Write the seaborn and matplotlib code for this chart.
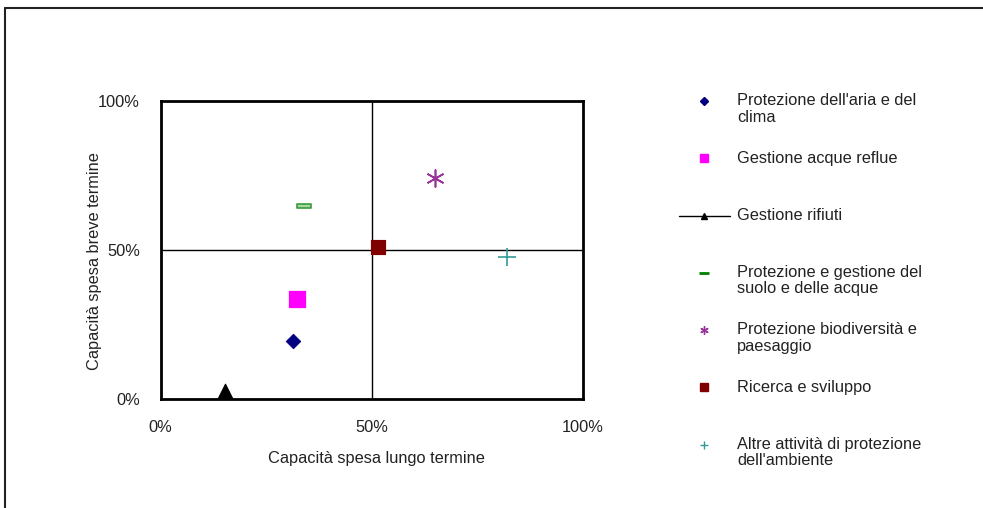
import matplotlib.pyplot as plt
import seaborn as sns
from matplotlib.lines import Line2D
from matplotlib.path import Path
from matplotlib.ticker import FixedLocator

categories = [
    "Protezione dell'aria e del\nclima",
    "Gestione acque reflue",
    "Gestione rifiuti",
    "Protezione e gestione del\nsuolo e delle acque",
    "Protezione biodiversità e\npaesaggio",
    "Ricerca e sviluppo",
    "Altre attività di protezione\ndell'ambiente",
]
lungo_termine = [31.3, 32.2, 15.2, 34.0, 65.1, 51.5, 82.0]
breve_termine = [19.6, 33.7, 2.8, 64.8, 74.0, 51.1, 47.8]
tick_values = [0, 50, 100]
tick_labels = ["0%", "50%", "100%"]

dash = Path([(-1, -0.22), (1, -0.22), (1, 0.22), (-1, 0.22), (-1, -0.22)],
            [Path.MOVETO, Path.LINETO, Path.LINETO, Path.LINETO, Path.CLOSEPOLY])
styles = [
    dict(marker="D", s=55, color="#000080", edgecolor="#000080"),
    dict(marker="s", s=130, color="#ff00ff", edgecolor="#ff00ff"),
    dict(marker="^", s=110, color="black", edgecolor="black"),
    dict(marker=dash, s=110, color="#a6d8a6", edgecolor="#3a9a3a", linewidth=1.2),
    dict(marker=(6, 2, 0), s=150, color="#993399", linewidth=1.2),
    dict(marker="s", s=110, color="#800000", edgecolor="#800000"),
    dict(marker="+", s=160, color="#339999", linewidth=1.2),
]
legend_styles = [
    dict(marker="D", markersize=4, color="#000080", linestyle="none"),
    dict(marker="s", markersize=6, color="#ff00ff", linestyle="none"),
    dict(marker="^", markersize=5, color="black", linestyle="-", linewidth=1),
    dict(marker="_", markersize=7, color="#008000", markeredgewidth=2, linestyle="none"),
    dict(marker=(6, 2, 0), markersize=6, color="#993399", linestyle="none"),
    dict(marker="s", markersize=6, color="#800000", linestyle="none"),
    dict(marker="+", markersize=6, color="#339999", linestyle="none"),
]

sns.set_style("white")
plt.rcParams["font.family"] = ["Liberation Sans", "DejaVu Sans"]
text_color = "#222222"
fs = 11.8

fig = plt.figure(figsize=(9.83, 5.08), dpi=100)
ax = fig.add_axes([0.1635, 0.214, 0.4293, 0.5878])

for i, cat in enumerate(categories):
    sns.scatterplot(x=[lungo_termine[i]], y=[breve_termine[i]], ax=ax,
                    legend=False, zorder=3, clip_on=False, **styles[i])

ax.axvline(50, color="black", linewidth=1, zorder=1)
ax.axhline(50, color="black", linewidth=1, zorder=1)
ax.set_xlim(0, 100)
ax.set_ylim(0, 100)
ax.xaxis.set_major_locator(FixedLocator(tick_values))
ax.yaxis.set_major_locator(FixedLocator(tick_values))
ax.set_xticklabels(tick_labels)
ax.set_yticklabels(tick_labels)
ax.tick_params(length=0, labelsize=fs, colors=text_color)
ax.tick_params(axis="x", pad=15)
ax.tick_params(axis="y", pad=15)
for sp in ax.spines.values():
    sp.set_visible(True)
    sp.set_color("black")
    sp.set_linewidth(2)

ax.set_xlabel("Capacità spesa lungo termine", fontsize=fs, color=text_color)
ax.set_ylabel("Capacità spesa breve termine", fontsize=fs, color=text_color)
ax.xaxis.set_label_coords(0.511, -0.173)
ax.yaxis.set_label_coords(-0.14, 0.463)

handles = [Line2D([], [], **st) for st in legend_styles]
labels = []
for cat in categories:
    lines = cat.split("\n")
    if len(lines) == 1:
        lines.append(" ")
    labels.append("\n".join([" "] + lines))
leg = fig.legend(handles, labels, loc="upper left", bbox_to_anchor=(0.6905, 0.848),
                 frameon=False, fontsize=fs, handlelength=3.1, handletextpad=0.45,
                 labelspacing=0.6, borderpad=0, borderaxespad=0, labelcolor=text_color)
for t in leg.get_texts():
    t.set_linespacing(1.1)

# outer frame of the original picture
fig.add_artist(Line2D([0.005, 1.0], [0.985, 0.985], color="#222222", linewidth=1.5,
                      transform=fig.transFigure))
fig.add_artist(Line2D([0.005, 0.005], [0.0, 0.985], color="#222222", linewidth=1.5,
                      transform=fig.transFigure))

fig.savefig("out.png", dpi=100)
plt.close(fig)
